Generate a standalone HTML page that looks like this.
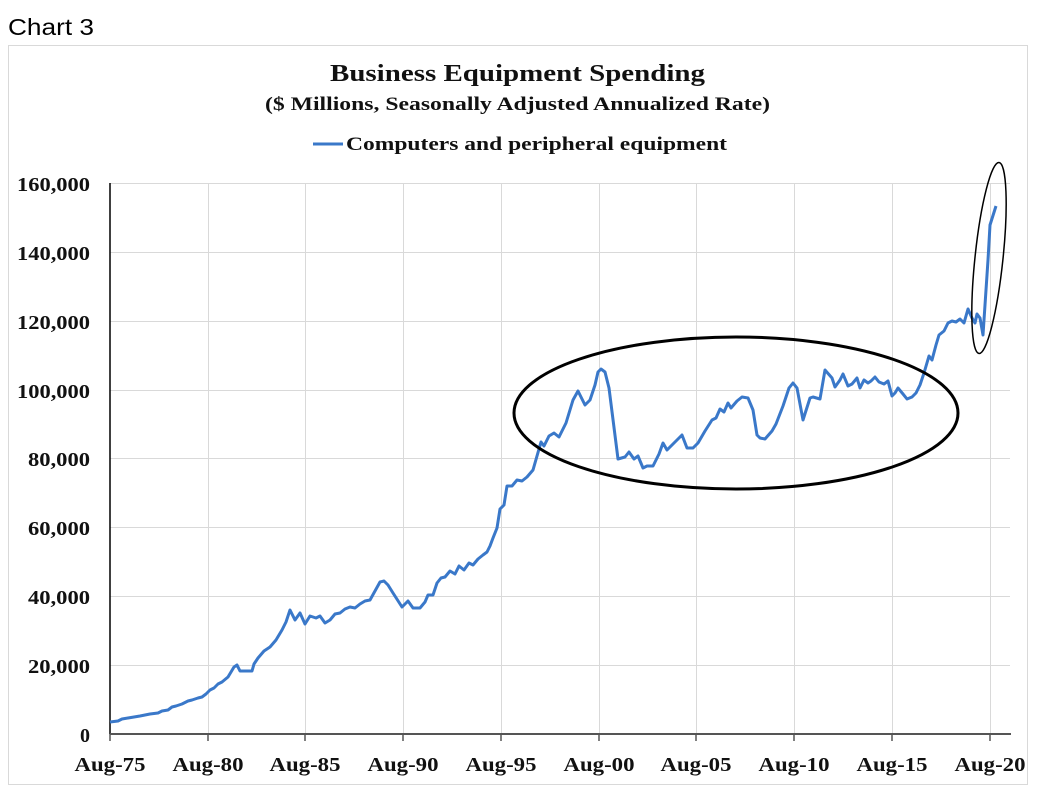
<!DOCTYPE html>
<html><head><meta charset="utf-8"><style>
body{margin:0;background:#fff;width:1062px;height:798px;overflow:hidden}
svg{display:block}
</style></head><body>
<svg width="1062" height="798" xmlns="http://www.w3.org/2000/svg">
<text x="8" y="35" font-family="Liberation Sans, sans-serif" font-size="23" fill="#000" textLength="86" lengthAdjust="spacingAndGlyphs">Chart 3</text>
<rect x="8.5" y="45.5" width="1019" height="739" fill="#fff" stroke="#d9d9d9"/>
<g font-family="Liberation Serif, serif" font-weight="bold" fill="#111" lengthAdjust="spacingAndGlyphs">
<text x="330" y="81" font-size="24" textLength="375" lengthAdjust="spacingAndGlyphs">Business Equipment Spending</text>
<text x="265" y="110" font-size="19" textLength="505" lengthAdjust="spacingAndGlyphs">($ Millions, Seasonally Adjusted Annualized Rate)</text>
<line x1="313" y1="144" x2="343" y2="144" stroke="#3a78c9" stroke-width="3"/>
<text x="346" y="150" font-size="19" textLength="381" lengthAdjust="spacingAndGlyphs">Computers and peripheral equipment</text>
</g>
<g stroke="#d9d9d9" stroke-width="1">
<line x1="110" y1="183.5" x2="1010" y2="183.5"/><line x1="110" y1="252.5" x2="1010" y2="252.5"/>
<line x1="110" y1="321.5" x2="1010" y2="321.5"/><line x1="110" y1="390.5" x2="1010" y2="390.5"/>
<line x1="110" y1="458.5" x2="1010" y2="458.5"/><line x1="110" y1="527.5" x2="1010" y2="527.5"/>
<line x1="110" y1="596.5" x2="1010" y2="596.5"/><line x1="110" y1="665.5" x2="1010" y2="665.5"/>
<line x1="208.5" y1="183" x2="208.5" y2="734"/><line x1="305.5" y1="183" x2="305.5" y2="734"/>
<line x1="403.5" y1="183" x2="403.5" y2="734"/><line x1="501.5" y1="183" x2="501.5" y2="734"/>
<line x1="599.5" y1="183" x2="599.5" y2="734"/><line x1="696.5" y1="183" x2="696.5" y2="734"/>
<line x1="794.5" y1="183" x2="794.5" y2="734"/><line x1="892.5" y1="183" x2="892.5" y2="734"/>
<line x1="990.5" y1="183" x2="990.5" y2="734"/>
</g>
<line x1="110" y1="183" x2="110" y2="734" stroke="#000" stroke-width="1.5"/>
<line x1="110" y1="734" x2="1011" y2="734" stroke="#555" stroke-width="2"/>
<g stroke="#555" stroke-width="1.5">
<line x1="110" y1="734" x2="110" y2="741"/><line x1="208" y1="734" x2="208" y2="741"/><line x1="305" y1="734" x2="305" y2="741"/><line x1="403" y1="734" x2="403" y2="741"/><line x1="501" y1="734" x2="501" y2="741"/><line x1="599" y1="734" x2="599" y2="741"/><line x1="696" y1="734" x2="696" y2="741"/><line x1="794" y1="734" x2="794" y2="741"/><line x1="892" y1="734" x2="892" y2="741"/><line x1="990" y1="734" x2="990" y2="741"/>
</g>
<g font-family="Liberation Serif, serif" font-weight="bold" font-size="20" fill="#111" text-anchor="end">
<text x="90" y="191" textLength="73" lengthAdjust="spacingAndGlyphs">160,000</text><text x="90" y="260" textLength="73" lengthAdjust="spacingAndGlyphs">140,000</text><text x="90" y="329" textLength="73" lengthAdjust="spacingAndGlyphs">120,000</text><text x="90" y="398" textLength="73" lengthAdjust="spacingAndGlyphs">100,000</text><text x="90" y="466" textLength="62" lengthAdjust="spacingAndGlyphs">80,000</text><text x="90" y="535" textLength="62" lengthAdjust="spacingAndGlyphs">60,000</text><text x="90" y="604" textLength="62" lengthAdjust="spacingAndGlyphs">40,000</text><text x="90" y="673" textLength="62" lengthAdjust="spacingAndGlyphs">20,000</text><text x="90" y="742">0</text>
</g>
<g font-family="Liberation Serif, serif" font-weight="bold" font-size="20" fill="#111" text-anchor="middle">
<text x="110" y="771" textLength="71" lengthAdjust="spacingAndGlyphs">Aug-75</text><text x="208" y="771" textLength="71" lengthAdjust="spacingAndGlyphs">Aug-80</text><text x="305" y="771" textLength="71" lengthAdjust="spacingAndGlyphs">Aug-85</text><text x="403" y="771" textLength="71" lengthAdjust="spacingAndGlyphs">Aug-90</text><text x="501" y="771" textLength="71" lengthAdjust="spacingAndGlyphs">Aug-95</text><text x="599" y="771" textLength="71" lengthAdjust="spacingAndGlyphs">Aug-00</text><text x="696" y="771" textLength="71" lengthAdjust="spacingAndGlyphs">Aug-05</text><text x="794" y="771" textLength="71" lengthAdjust="spacingAndGlyphs">Aug-10</text><text x="892" y="771" textLength="71" lengthAdjust="spacingAndGlyphs">Aug-15</text><text x="990" y="771" textLength="71" lengthAdjust="spacingAndGlyphs">Aug-20</text>
</g>
<polyline fill="none" stroke="#3a78c9" stroke-width="3" stroke-linejoin="round" points="110,722 118,721 122,719 128,718 140,716 150,714 158,713 162,711 168,710 172,707 176,706 182,704 188,701 192,700 198,698 202,697 206,694 210,690 214,688 218,684 222,682 228,677 234,667 237,665 240,671 244,671 252,671 254,664 258,658 264,651 270,647 276,640 282,630 286,622 290,610 295,620 300,613 305,624 310,616 316,618 320,616 325,623 330,620 335,614 340,613 345,609 350,607 355,608 360,604 365,601 370,600 375,591 380,582 384,581 388,585 393,593 402,607 408,601 413,608 420,608 425,602 428,595 433,595 437,583 441,578 445,577 450,571 455,574 459,566 464,570 469,563 473,565 478,559 483,555 487,552 490,546 493,538 497,528 500,509 504,505 507,486 512,486 517,480 522,481 527,477 533,470 541,442 544,446 549,436 554,433 559,437 566,423 573,400 578,391 585,405 590,400 595,385 598,372 601,369 605,372 609,388 618,459 625,457 629,452 634,459 638,456 643,468 647,466 653,466 659,454 663,443 667,450 674,443 682,435 687,448 693,448 698,443 705,431 712,420 716,418 720,409 724,412 728,403 731,408 737,401 742,397 748,398 753,410 757,435 760,438 765,439 772,431 776,424 783,406 789,388 793,383 797,388 803,420 810,398 813,397 820,399 825,370 832,378 835,387 840,380 843,374 848,386 852,384 857,378 860,388 864,380 868,383 871,381 875,377 879,382 884,384 888,381 892,396 895,393 898,388 903,394 907,399 912,397 916,393 920,385 924,373 929,356 932,360 936,345 939,335 944,331 948,323 952,321 956,322 960,319 964,323 968,309 972,318 975,323 977,314 980,318 983,335 988,260 990,225 996,206"/>
<ellipse cx="736" cy="413" rx="222" ry="76" fill="none" stroke="#000" stroke-width="3"/>
<ellipse cx="989" cy="258" rx="14" ry="96" fill="none" stroke="#000" stroke-width="1.5" transform="rotate(6 989 258)"/>
</svg>
</body></html>
